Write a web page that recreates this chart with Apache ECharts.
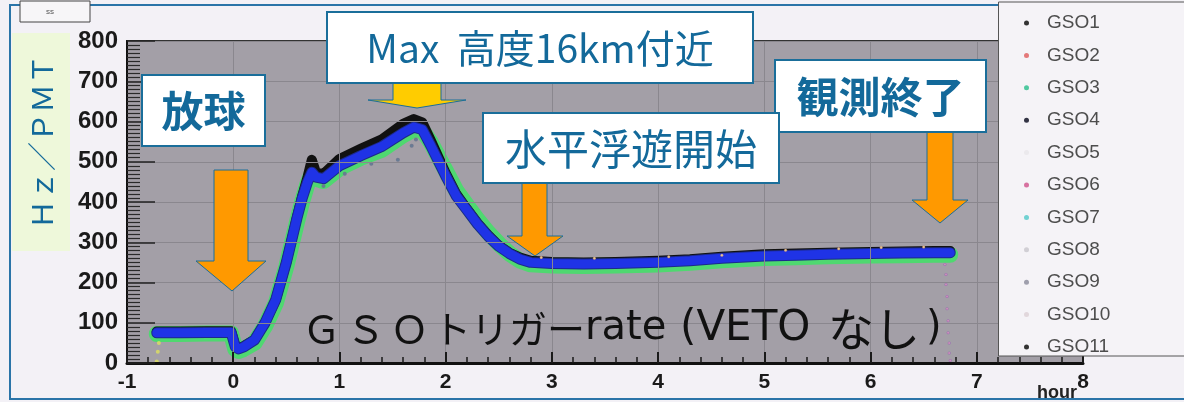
<!DOCTYPE html>
<html><head><meta charset="utf-8">
<script src="https://cdn.jsdelivr.net/npm/echarts@6/dist/echarts.min.js"></script>
<style>html,body{margin:0;padding:0;background:#f3f1f6}#c{width:1184px;height:402px}</style>
</head><body><div id="c"></div><script>
// ---- data ----
const hours     = [-0.72,-0.5,-0.25,-0.02,0.02,0.05,0.1,0.2,0.3,0.4,0.5,0.6,0.65,0.7,0.74,0.78,0.85,1.0,1.2,1.4,1.6,1.7,1.78,1.86,2.0,2.1,2.2,2.3,2.4,2.5,2.6,2.7,2.8,3.0,3.3,3.6,4.0,4.3,4.6,5.0,5.3,5.6,6.0,6.3,6.6,6.75];
const rateBlue  = [75,75,76,76,40,35,40,57,100,157,250,360,410,450,474,462,458,490,515,538,572,586,580,540,465,415,380,345,315,290,272,258,250,247,246,247,250,254,260,266,268,270,272,273,274,274];
const rateBlack = [78,78,79,79,42,37,42,58,100,157,250,362,415,462,505,472,470,507,532,556,594,606,598,553,472,420,383,348,318,292,274,262,254,251,250,251,254,258,264,270,272,274,276,277,278,278];
const rateGreen = [72,72,73,73,34,30,35,50,92,148,240,350,402,446,470,458,452,484,510,530,566,580,578,548,478,428,392,356,324,296,272,254,245,242,241,242,245,249,255,261,263,265,267,268,269,269];
const descentHours = [6.70,6.71,6.71,6.72,6.72,6.73,6.73,6.74,6.74,6.75];
const descentRates = [245,220,195,165,135,105,75,50,25,6];
const preHours = [-0.72,-0.71,-0.70];
const preRates = [4,28,50];
const humpHours = [0.85,1.05,1.3,1.55,1.68,1.72];
const humpRates = [440,470,495,505,540,555];
const edgeHours = [2.9,3.4,4.1,4.6,5.2,5.7,6.1,6.5];
const edgeRates = [262,260,264,268,280,284,287,288];
const seriesNames = ['GSO1','GSO2','GSO3','GSO4','GSO5','GSO6','GSO7','GSO8','GSO9','GSO10','GSO11'];
const legendColors = ['#333','#e05a5a','#50c8a0','#334','#e8e6ea','#d0508a','#50c8c8','#c8c6cc','#8a8a9a','#dcd0d4','#333'];
const xMin = -1, xMax = 8, yMin = 0, yMax = 800;

const pts = (xs, ys) => xs.map((x, i) => [x, ys[i]]);
const txtColor = '#13699a';
const jp = '"Noto Sans CJK JP", sans-serif';
const dv = '"DejaVu Sans", sans-serif';

function lineSeries(name, data, color, width, z) {
  return {name, type:'line', data, showSymbol:false, symbol:'none', z,
    lineStyle:{color, width, join:'round', cap:'round'}, itemStyle:{color}, animation:false};
}
function dotSeries(name, data, color, size, z) {
  return {name, type:'scatter', data, symbolSize:size, z, itemStyle:{color}, animation:false};
}

const series = [
  lineSeries('GSO3', pts(hours, rateGreen), '#4fd870', 16, 2),
  lineSeries('GSO1', pts(hours, rateBlack), '#111111', 10, 3),
  lineSeries('GSO4', pts(hours, rateBlue), '#1c2a8a', 11, 3),
  lineSeries('GSO11', pts(hours, rateBlue), '#1f33e6', 9, 4),
  dotSeries('GSO2', pts(edgeHours, edgeRates), '#e8a070', 3, 5),
  dotSeries('GSO5', pts(preHours, preRates), '#dde060', 4, 5),
  dotSeries('GSO6', pts(descentHours, descentRates), '#9a60b8', 3, 5),
  dotSeries('GSO7', pts(humpHours, humpRates), '#50c8c8', 3, 5),
  dotSeries('GSO8', pts(edgeHours, edgeRates), '#e8d8a0', 2, 5),
  dotSeries('GSO9', pts(humpHours, humpRates), '#6a6a88', 4, 5),
  dotSeries('GSO10', pts(descentHours, descentRates), '#d89ab8', 2, 5)
];

function arrow(points, fill) {
  return {type:'polygon', z:100, shape:{points}, style:{fill, stroke:'#1a6e9a', lineWidth:1}};
}
function box(x, y, w, h, text, weight, size, z) {
  return [
    {type:'rect', z:z, shape:{x, y, width:w, height:h}, style:{fill:'#ffffff', stroke:'#1a6e9a', lineWidth:2}},
    {type:'text', z:z+1, x:x+w/2, y:y+h/2+1, style:{text, fill:txtColor, fontFamily:jp, fontWeight:weight, fontSize:size, align:'center', verticalAlign:'middle'}}
  ];
}
function piece(text, x, font, size) {
  return {type:'text', z:95, x, y:329, style:{text, fontFamily:font, fontSize:size, fill:'#111', align:'left', verticalAlign:'middle'}};
}

const graphic = [
  {type:'rect', z:90, shape:{x:10, y:5, width:1200, height:394}, style:{fill:'none', stroke:'#2a74a8', lineWidth:2}},
  {type:'rect', z:91, shape:{x:20, y:1, width:70, height:21}, style:{fill:'#f7f6f8', stroke:'#444', lineWidth:1}},
  {type:'text', z:92, x:50, y:12, style:{text:'ss', fontSize:8, fill:'#555', align:'center', verticalAlign:'middle'}},
  {type:'rect', z:91, shape:{x:12, y:33, width:58, height:218}, style:{fill:'#eef8da'}},
  {type:'text', z:92, x:42, y:142, rotation:Math.PI/2, style:{text:'Ｈｚ／ＰＭＴ', fontFamily:jp, fontSize:29, fill:txtColor, align:'center', verticalAlign:'middle'}},
  {type:'rect', z:150, shape:{x:998.5, y:2, width:190, height:354}, style:{fill:'#f5f3f7', stroke:'#555', lineWidth:1}},
  {type:'text', z:92, x:1057, y:393, style:{text:'hour', fontFamily:'"Liberation Sans", Arial, sans-serif', fontWeight:'bold', fontSize:18, fill:'#222', align:'center', verticalAlign:'middle'}},
  // in-plot title, in pieces to follow the original spacing
  piece('Ｇ', 302, jp, 39),
  piece('Ｓ', 346, jp, 39),
  piece('Ｏ', 390, jp, 39),
  piece('トリガー', 433, jp, 38),
  piece('rate', 585, dv, 40),
  piece('(VETO', 680, dv, 42),
  piece('なし', 828, jp, 46),
  piece(')', 926, dv, 40),
  arrow([[214,170],[248,170],[248,261],[266,261],[232,291],[196,261],[214,261]], '#ff9900'),
  arrow([[393,83],[441,83],[441,100],[466,100],[417,108],[368,100],[393,100]], '#ffcc00'),
  arrow([[522,183],[547,183],[547,236],[563,236],[535,256],[507,236],[522,236]], '#ff9900'),
  arrow([[927,132],[953,132],[953,200],[968,200],[940,223],[912,200],[927,200]], '#ff9900'),
  ...box(142, 75, 123, 71, '放球', 'bold', 42, 110),
  ...box(327, 12, 426, 71, 'Max  高度16km付近', 'normal', 39, 110),
  ...box(775, 60, 211, 72, '観測終了', 'bold', 42, 110),
  ...box(483, 113, 296, 70, '水平浮遊開始', 'normal', 42, 120)
];

const chart = echarts.init(document.getElementById('c'), null, {renderer:'canvas'});
chart.setOption({
  animation:false,
  backgroundColor:'#f3f1f6',
  grid:{left:127, right:101, top:41, bottom:39, show:true, backgroundColor:'#a39fa7', borderColor:'#333', borderWidth:2, outerBoundsMode:'none', containLabel:false},
  xAxis:{type:'value', min:xMin, max:xMax, interval:1, z:10,
    axisLine:{show:true, onZero:false, lineStyle:{color:'#111', width:3}},
    axisTick:{show:true, inside:true, length:11, lineStyle:{color:'#1a1a1a', width:2}},
    minorTick:{show:true, splitNumber:5, length:6, lineStyle:{color:'#1a1a1a', width:1.5}},
    splitLine:{show:true, lineStyle:{color:'#8a878e', width:1}},
    axisLabel:{color:'#1a1a1a', fontSize:21, fontWeight:'bold', fontFamily:'"Liberation Sans", Arial, sans-serif', margin:9}},
  yAxis:{type:'value', min:yMin, max:yMax, interval:100, z:10,
    axisLine:{show:true, onZero:false, lineStyle:{color:'#111', width:2}},
    axisTick:{show:true, inside:true, length:28, lineStyle:{color:'#222', width:1.5}},
    minorTick:{show:true, splitNumber:10, length:13, lineStyle:{color:'#2a2a2a', width:1.2}},
    splitLine:{show:true, lineStyle:{color:'#8a878e', width:1}},
    axisLabel:{color:'#1a1a1a', fontSize:24, fontWeight:'bold', fontFamily:'"Liberation Sans", Arial, sans-serif', margin:9}},
  legend:{orient:'vertical', left:1019, top:8, z:200, itemGap:12.4, itemWidth:5, itemHeight:5, icon:'circle',
    textStyle:{color:'#4d4d4d', fontSize:19, fontFamily:'"Liberation Sans", Arial, sans-serif', lineHeight:20, padding:[0,0,0,13]},
    data: seriesNames.map((n,i)=>({name:n, itemStyle:{color:legendColors[i]}})),
    selectedMode:false},
  graphic,
  series
});
</script></body></html>
